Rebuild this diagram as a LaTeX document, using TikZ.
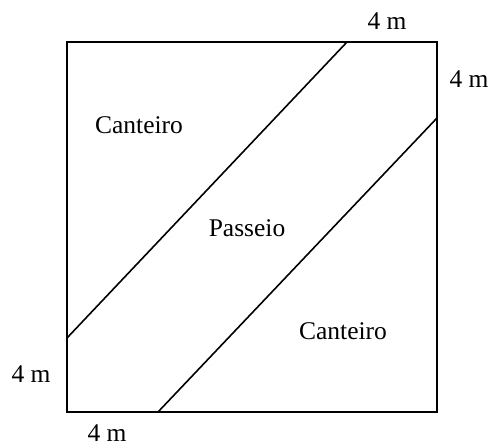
\documentclass[tikz,border=0pt]{standalone}
\usepackage{fontspec}
\setmainfont{Liberation Serif}
\begin{document}
\begin{tikzpicture}[x=1pt,y=-1pt,
  lbl/.style={font=\fontsize{25.5}{28}\selectfont, inner sep=0pt},
  edge/.style={line width=1.6pt}]
\useasboundingbox (0,0) rectangle (493,442);
\coordinate (tl) at (67,42);
\coordinate (tr) at (437,42);
\coordinate (br) at (437,412);
\coordinate (bl) at (67,412);
\coordinate (a1) at (67,338);
\coordinate (a2) at (347,42);
\coordinate (b1) at (158,412);
\coordinate (b2) at (437,118);
\draw[edge] (tl) -- (tr) -- (br) -- (bl) -- cycle;
\draw[edge] (a1) -- (a2);
\draw[edge] (b1) -- (b2);
\node[lbl] (t1) at (139,125) {Canteiro};
\node[lbl] (t2) at (247,228) {Passeio};
\node[lbl] (t3) at (343,331) {Canteiro};
\node[lbl] (m1) at (387,21) {4 m};
\node[lbl] (m2) at (469,79) {4 m};
\node[lbl] (m3) at (31,374) {4 m};
\node[lbl] (m4) at (107,433) {4 m};
\end{tikzpicture}
\end{document}
